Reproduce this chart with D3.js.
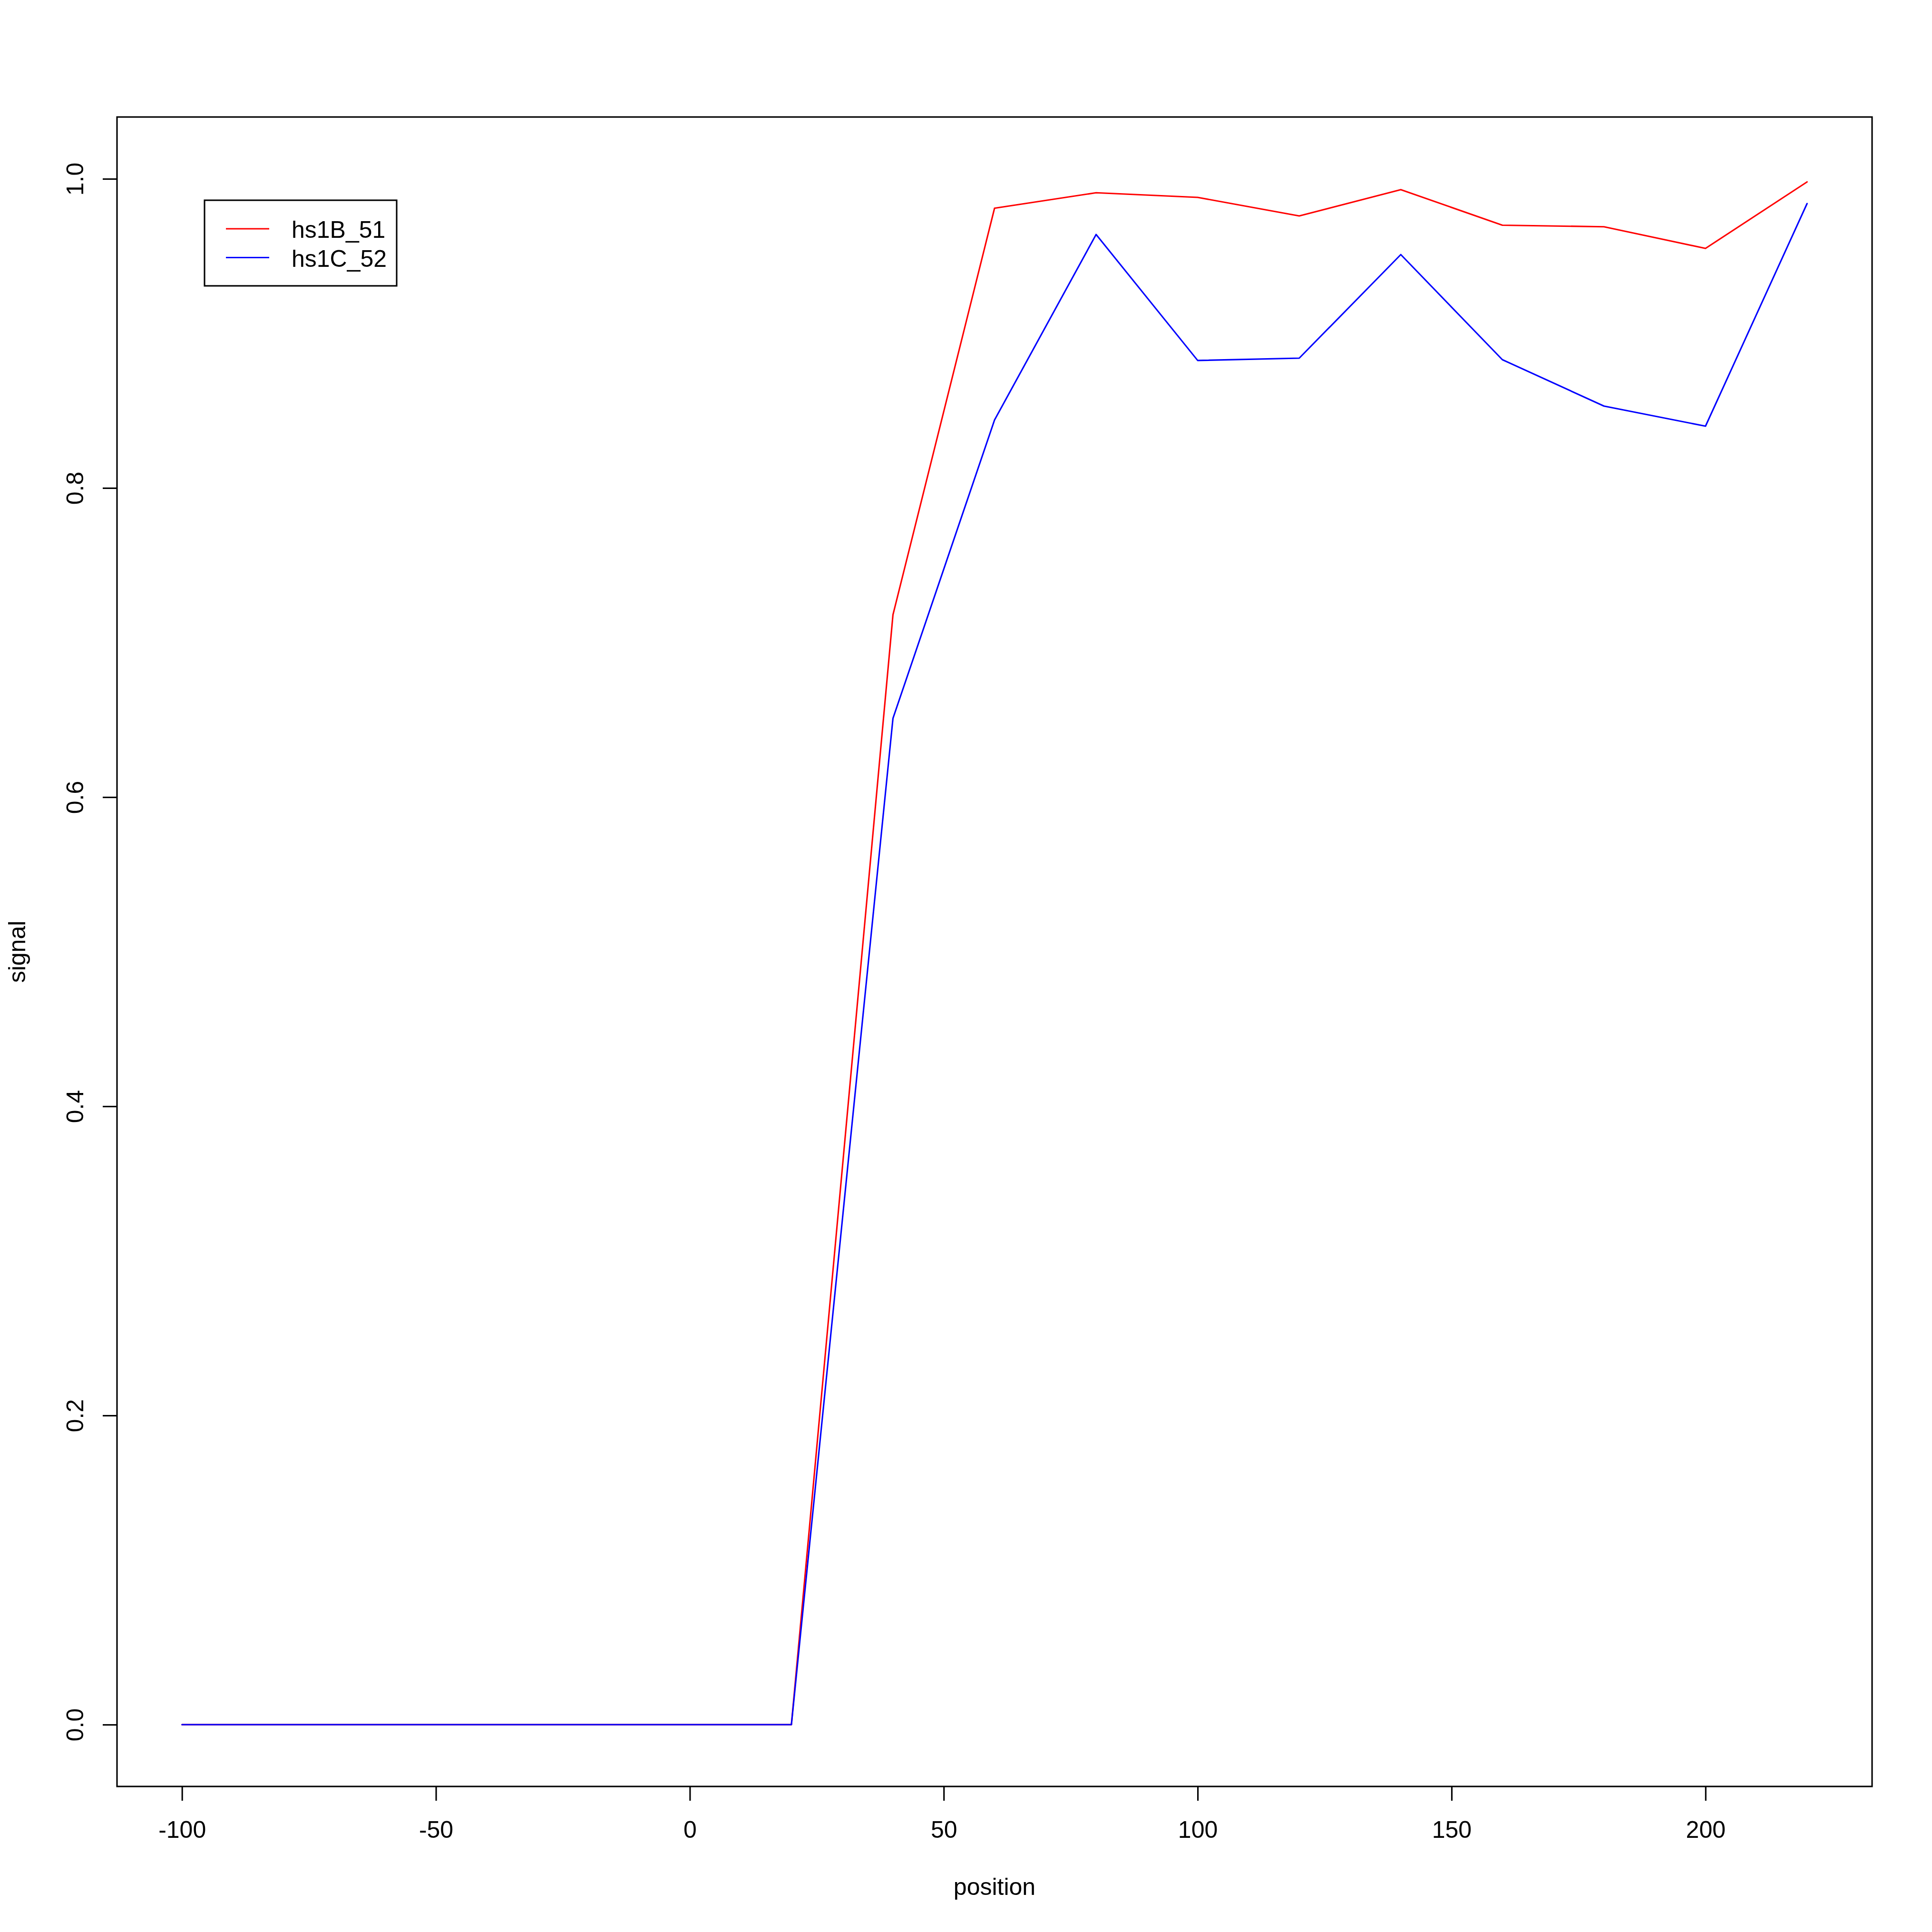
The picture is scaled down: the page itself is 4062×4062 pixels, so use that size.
<!DOCTYPE html>
<html>
<head>
<meta charset="utf-8">
<script src="https://cdn.jsdelivr.net/npm/d3@7/dist/d3.min.js"></script>
<style>
  html, body { margin: 0; padding: 0; background: #fff; }
  svg { display: block; }
  text { font-family: "Liberation Sans", Arial, Helvetica, sans-serif; }
</style>
</head>
<body>
<script>
// ---- data ----
const positions = [-100, -80, -60, -40, -20, 0, 20, 40, 60, 80, 100, 120, 140, 160, 180, 200, 220];
const seriesNames = ["hs1B_51", "hs1C_52"];
const seriesColors = ["#ff0000", "#0000ff"];
const hs1B_51 = [0, 0, 0, 0, 0, 0, 0, 0.718, 0.981, 0.991, 0.988, 0.976, 0.993, 0.970, 0.969, 0.955, 0.998];
const hs1C_52 = [0, 0, 0, 0, 0, 0, 0, 0.651, 0.844, 0.964, 0.8825, 0.884, 0.951, 0.883, 0.853, 0.840, 0.984];
const xTicks = [-100, -50, 0, 50, 100, 150, 200];
const yTicks = [0, 0.2, 0.4, 0.6, 0.8, 1.0];
const xLabel = "position";
const yLabel = "signal";

// ---- layout ----
const W = 4062, H = 4062;
const pL = 246, pR = 3936, pT = 246, pB = 3756;
const lw = 3.125;
const fs = 50;
const FONT = '"Liberation Sans", Arial, Helvetica, sans-serif';

const svg = d3.select("body").append("svg").attr("width", W).attr("height", H);
svg.append("rect").attr("width", W).attr("height", H).attr("fill", "#fff");

const xmin = -100, xmax = 220, ymin = 0, ymax = 1;
const xpad = (xmax - xmin) * 0.04, ypad = (ymax - ymin) * 0.04;
const x = d3.scaleLinear().domain([xmin - xpad, xmax + xpad]).range([pL, pR]);
const y = d3.scaleLinear().domain([ymin - ypad, ymax + ypad]).range([pB, pT]);

// series lines
const series = [hs1B_51, hs1C_52];
const line = d3.line().x((d, i) => x(positions[i])).y(d => y(d));
series.forEach((s, k) => {
  svg.append("path").datum(s).attr("d", line)
    .attr("fill", "none").attr("stroke", seriesColors[k])
    .attr("stroke-width", lw).attr("stroke-linejoin", "round").attr("stroke-linecap", "round");
});

// x axis (ASCII hyphen-minus as in R)
const gx = svg.append("g").attr("transform", `translate(0,${pB})`)
  .call(d3.axisBottom(x).tickValues(xTicks).tickSize(30).tickFormat(d => String(d)));
gx.select(".domain").remove();
gx.selectAll(".tick line").attr("stroke", "#000").attr("stroke-width", lw);
gx.selectAll(".tick text").attr("y", 108).attr("dy", null)
  .attr("font-size", fs).attr("fill", "#000").style("font-family", FONT);

// y axis
const gy = svg.append("g").attr("transform", `translate(${pL},0)`)
  .call(d3.axisLeft(y).tickValues(yTicks).tickSize(30).tickFormat(d => d.toFixed(1)));
gy.select(".domain").remove();
gy.selectAll(".tick line").attr("stroke", "#000").attr("stroke-width", lw);
gy.selectAll(".tick text").attr("x", null).attr("dy", null)
  .attr("transform", "translate(-71,0) rotate(-90)")
  .attr("text-anchor", "middle")
  .attr("font-size", fs).attr("fill", "#000").style("font-family", FONT);

// box
svg.append("rect").attr("x", pL).attr("y", pT)
  .attr("width", pR - pL).attr("height", pB - pT)
  .attr("fill", "none").attr("stroke", "#000").attr("stroke-width", lw);

// axis titles
svg.append("text").attr("x", (pL + pR) / 2).attr("y", 3984)
  .attr("text-anchor", "middle").attr("font-size", fs).attr("fill", "#000").text(xLabel);
svg.append("text").attr("transform", `translate(53,${(pT + pB) / 2}) rotate(-90)`)
  .attr("text-anchor", "middle").attr("font-size", fs).attr("fill", "#000").text(yLabel);

// legend
const lg = svg.append("g");
lg.append("rect").attr("x", 430).attr("y", 421).attr("width", 404).attr("height", 180)
  .attr("fill", "#fff").attr("stroke", "#000").attr("stroke-width", lw);
seriesNames.forEach((name, k) => {
  const ly = 481 + k * 60.5;
  lg.append("line").attr("x1", 475).attr("x2", 566).attr("y1", ly).attr("y2", ly)
    .attr("stroke", seriesColors[k]).attr("stroke-width", lw);
  lg.append("text").attr("x", 613).attr("y", ly + 19).attr("font-size", fs)
    .attr("fill", "#000").text(name);
});
</script>
</body>
</html>
